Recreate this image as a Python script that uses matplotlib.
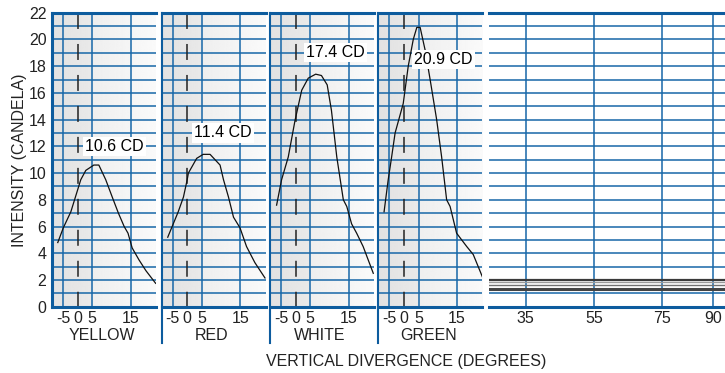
import numpy as np
import matplotlib
matplotlib.use("Agg")
import matplotlib.pyplot as plt
from matplotlib.lines import Line2D

plt.rcParams['font.family'] = ['Liberation Sans', 'DejaVu Sans']

# --- data ------------------------------------------------------------------
panels = ['YELLOW', 'RED', 'WHITE', 'GREEN']
peak_labels = ['10.6 CD', '11.4 CD', '17.4 CD', '20.9 CD']
label_x = [2.5, 2.4, 3.5, 3.5]
label_y = [12, 13, 19, 18.5]

yellow_x = [-6.9, -4.9, -2.3, -0.3, 1.1, 2.8, 5.4, 6.7, 8.5, 10.2, 11.8, 13.3, 14.3, 15.4, 17.3, 19.2, 21.9]
yellow_y = [4.8, 5.9, 7.1, 8.5, 9.5, 10.2, 10.6, 10.6, 9.5, 8.2, 7.0, 6.0, 5.5, 4.4, 3.5, 2.7, 1.75]

red_x = [-6.8, -5.4, -3.1, -1.3, 0.0, 0.4, 3.2, 5.3, 7.1, 9.7, 10.6, 11.9, 13.2, 14.9, 16.7, 19.0, 21.8]
red_y = [5.2, 5.9, 7.1, 8.2, 9.5, 10.0, 11.1, 11.4, 11.4, 10.6, 9.5, 8.2, 6.7, 5.9, 4.5, 3.3, 2.15]

white_x = [-6.6, -4.8, -2.5, -0.2, 2.1, 4.3, 6.4, 7.9, 9.4, 10.5, 11.9, 13.6, 14.5, 15.8, 17.2, 19.0, 21.8]
white_y = [7.6, 9.5, 11.2, 13.9, 16.2, 17.1, 17.4, 17.3, 16.6, 14.7, 11.2, 8.0, 7.5, 6.2, 5.5, 4.5, 2.5]

green_x = [-6.9, -5.4, -4.2, -3.0, -0.2, 1.5, 3.2, 4.4, 5.4, 6.7, 8.0, 9.7, 11.0, 12.3, 13.2, 14.9, 17.7, 19.5, 22.0]
green_y = [7.1, 9.5, 11.2, 13.0, 15.2, 18.0, 20.0, 20.9, 20.9, 19.2, 17.0, 14.0, 11.2, 8.0, 7.5, 5.5, 4.5, 3.9, 2.25]

curves_x = [yellow_x, red_x, white_x, green_x]
curves_y = [yellow_y, red_y, white_y, green_y]

# flat tails beyond 25 degrees
tail_x = [24.2, 94.1]
tail_levels = [2.0, 1.83, 1.62, 1.32]
tail_colors = ['#3a3a3a', '#9a9a9a', '#707070', '#444444']
tail_widths = [1.6, 1.0, 1.0, 2.2]

panel_ticks = [-5, 0, 5, 15]
far_ticks = [35, 55, 75, 90]

# --- scale for the compressed degree axis ----------------------------------
deg_knots = np.array([-60, -9, -5, 0, 5, 15, 22, 80])
pos_knots = np.array([-140.25, 0, 11, 25.5, 40.3, 78.7, 104, 313.5])


def fwd(x):
    return np.interp(x, deg_knots, pos_knots)


def inv(p):
    return np.interp(p, pos_knots, deg_knots)


BLUE = '#1767a8'
DARK_BLUE = '#0d5c9e'
W, H = 725, 373
fig = plt.figure(figsize=(W / 100, H / 100), dpi=100)

y_top, y_bot = 12.7, 306.7
ax_b = 1 - y_bot / H
ax_h = (y_bot - y_top) / H

lefts = [52, 161.7, 270, 378.3]
pw = 104

# background gradient
grad = np.linspace(0, 1, 256)
shade = 0.905 + 0.075 * grad
shade[grad < 0.387] -= 0.02
bg = np.tile(shade, (2, 1))

for i, name in enumerate(panels):
    ax = fig.add_axes([lefts[i] / W, ax_b, pw / W, ax_h])
    ax.set_xscale('function', functions=(fwd, inv))
    ax.set_xlim(-9, 22)
    ax.set_ylim(0, 22)
    ax.imshow(bg, cmap='gray', vmin=0, vmax=1, aspect='auto',
              extent=[0, 1, 0, 1], transform=ax.transAxes, zorder=0)
    for yv in range(1, 22):
        ax.axhline(yv, color=BLUE, lw=1.1, zorder=1)
    for xv in [-5, 5, 15]:
        ax.axvline(xv, color=BLUE, lw=1.1, zorder=1)
    ax.plot([0, 0], [22, 0], color='#222222', lw=1.1,
            linestyle=(0, (11.5 / 1.1, 10.8 / 1.1)), zorder=2)
    ax.plot(curves_x[i], curves_y[i], color='#111111', lw=0.9, zorder=3)
    ax.text(label_x[i], label_y[i], peak_labels[i], fontsize=11.5,
            ha='left', va='center', zorder=4,
            bbox=dict(facecolor='white', edgecolor='none', pad=1.5))
    ax.set_xticks(panel_ticks)
    ax.set_xticklabels([str(t) for t in panel_ticks])
    ax.tick_params(axis='x', length=0, pad=3, labelsize=11.5, colors='#222222')
    if i == 0:
        ax.set_yticks(range(0, 23, 2))
        ax.tick_params(axis='y', length=0, pad=4, labelsize=11.5, colors='#222222')
        ax.spines['left'].set_linewidth(2.2)
    else:
        ax.set_yticks([])
        ax.spines['left'].set_linewidth(1.5)
        # separator continues down past the category name
        x0 = lefts[i] / W
        fig.add_artist(Line2D([x0, x0], [ax_b, 1 - 343 / H],
                              color=DARK_BLUE, lw=1.5))
    ax.spines['left'].set_color(DARK_BLUE)
    ax.spines['right'].set_visible(False)
    for s in ['top', 'bottom']:
        ax.spines[s].set_color(DARK_BLUE)
        ax.spines[s].set_linewidth(2.2)
    ax.set_zorder(1)

    fig.text((lefts[i] + pw / 2 - 2) / W, 1 - 335 / H, name, fontsize=11.5,
             ha='center', va='center', color='#222222')

# last panel, wide angles
ax = fig.add_axes([489 / W, ax_b, 238 / W, ax_h])
ax.set_xlim(tail_x[0], tail_x[1])
ax.set_ylim(0, 22)
for yv in range(1, 22):
    ax.axhline(yv, color=BLUE, lw=1.1, zorder=1)
for xv in far_ticks:
    ax.axvline(xv, color=BLUE, lw=1.1, zorder=1)
for lvl, c, w in zip(tail_levels, tail_colors, tail_widths):
    ax.plot(tail_x, [lvl, lvl], color=c, lw=w, zorder=3)
ax.set_xticks(far_ticks)
ax.tick_params(axis='x', length=0, pad=3, labelsize=11.5, colors='#222222')
ax.set_yticks([])
ax.spines['left'].set_visible(False)
ax.spines['right'].set_visible(False)
for s in ['top', 'bottom']:
    ax.spines[s].set_color(DARK_BLUE)
    ax.spines[s].set_linewidth(2.2)

fig.text(20 / W, 1 - 160 / H, 'INTENSITY (CANDELA)', rotation=90,
         fontsize=11.5, ha='center', va='center', color='#222222')
fig.text(406 / W, 1 - 361.7 / H, 'VERTICAL DIVERGENCE (DEGREES)',
         fontsize=11.5, ha='center', va='center', color='#222222')

fig.savefig('out.png', dpi=100)
